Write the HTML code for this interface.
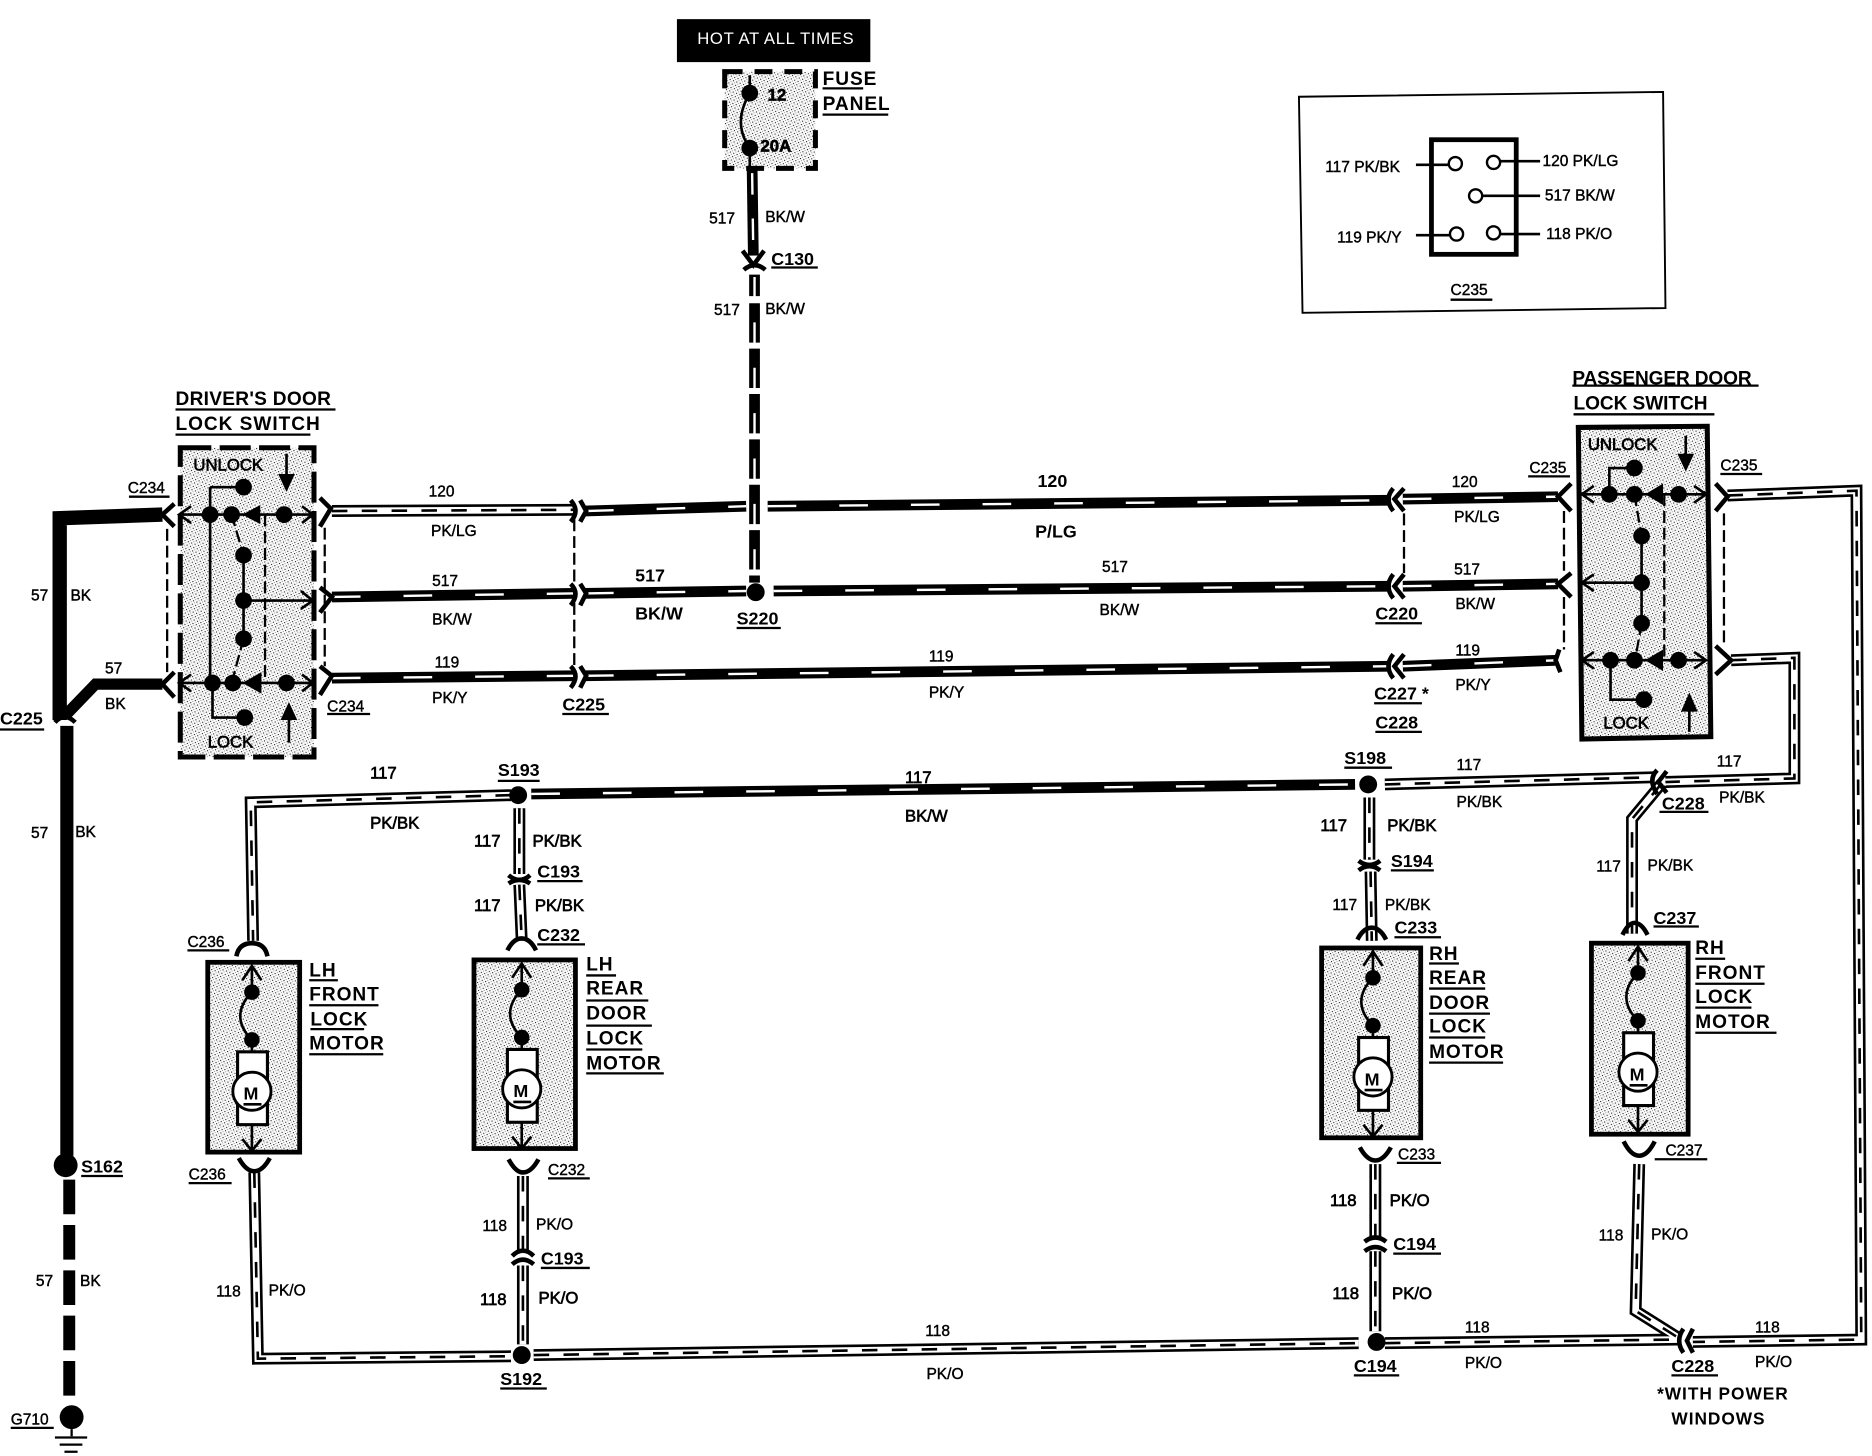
<!DOCTYPE html>
<html><head><meta charset="utf-8"><style>
html,body{margin:0;padding:0;background:#fff}
svg{display:block}
text{font-family:"Liberation Sans",sans-serif;fill:#000;stroke:#000;stroke-width:.35}
.s{font-size:13px}
.m{font-size:14px;stroke-width:.55}
.b{font-size:15px;font-weight:bold;stroke:none}
.n{font-size:16px;font-weight:bold;stroke:none;letter-spacing:.8px}
path,line,polyline{fill:none;stroke-linejoin:miter}
.w1{stroke:#000;stroke-width:10}
.w2{stroke:#fff;stroke-width:5.6}
.w3{stroke:#000;stroke-width:2.2;stroke-dasharray:13 12}
.k1{stroke:#000;stroke-width:9}
.k2{stroke:#fff;stroke-width:2;stroke-dasharray:24 36}
.c{stroke:#000;stroke-width:3.8}
.d{stroke:#000;stroke-width:1.9;stroke-dasharray:10 4}
.u{stroke:#000;stroke-width:1.9}
.l{stroke:#000;stroke-width:2.2}
.dot{fill:#000;stroke:none}
</style></head><body>
<svg xmlns="http://www.w3.org/2000/svg" width="1872" height="1456" viewBox="0 0 1568 1219.5">
<defs>
<pattern id="st" width="3" height="3" patternUnits="userSpaceOnUse" patternTransform="rotate(20)">
<rect width="3" height="3" fill="#fafafa"/><rect x="0" y="0" width=".85" height=".85" fill="#000"/><rect x="1.5" y="1.5" width=".55" height=".55" fill="#222"/>
</pattern>
<g id="motor">
<path class="l" d="M-8 15L0 3L8 15M0 3V25"/>
<circle class="dot" cx="0" cy="25" r="6.5"/>
<path class="l" d="M0 25C-13 38-13 52 0 65"/>
<circle class="dot" cx="0" cy="65" r="6.5"/>
<path class="l" d="M0 65V76"/>
<rect x="-12" y="75" width="25" height="61" fill="#fff" stroke="#000" stroke-width="2.6"/>
<circle cx="0" cy="108" r="16" fill="#fff" stroke="#000" stroke-width="2.4"/>
<path class="l" d="M-7 119H8M0 136V158M-8 148L0 158L8 148"/>
</g>
</defs>
<rect width="1568" height="1219.5" fill="#fff"/>

<!-- top -->
<rect x="567" y="16" width="162" height="36" fill="#000"/>
<text x="584" y="37" font-size="14" style="fill:#fff;stroke:none" textLength="131">HOT AT ALL TIMES</text>
<rect x="607" y="60" width="76" height="81" fill="url(#st)"/>
<rect x="607" y="60" width="76" height="81" fill="none" stroke="#000" stroke-width="4.2" stroke-dasharray="15 10"/>
<path class="l" d="M628 63V78C618 95 618 110 628 124V140"/>
<circle class="dot" cx="628" cy="78" r="7"/><circle class="dot" cx="628" cy="124" r="7"/>
<text x="643" y="84" class="m" style="font-weight:bold">12</text>
<text x="637" y="127" class="m" style="font-weight:bold">20A</text>
<text x="689" y="71" class="n">FUSE</text><text x="689" y="92" class="n">PANEL</text>

<!-- inset -->
<path d="M1088 81L1393 77L1395 258L1091 262Z" stroke="#000" stroke-width="1.6"/>
<rect x="1199" y="117" width="71" height="96" stroke="#000" stroke-width="4" fill="none"/>
<path class="l" d="M1186 138H1213M1257 135H1290M1242 164H1290M1186 197H1214M1257 196H1290"/>
<g fill="#fff" stroke="#000" stroke-width="2"><circle cx="1219" cy="137" r="5.5"/><circle cx="1251" cy="136" r="5.5"/><circle cx="1236" cy="164" r="5.5"/><circle cx="1220" cy="196" r="5.5"/><circle cx="1251" cy="195" r="5.5"/></g>
<text x="1110" y="144" class="s">117 PK/BK</text><text x="1292" y="139" class="s">120 PK/LG</text>
<text x="1294" y="168" class="s">517 BK/W</text><text x="1120" y="203" class="s">119 PK/Y</text>
<text x="1295" y="200" class="s">118 PK/O</text><text x="1215" y="247" class="s">C235</text>

<!-- switch boxes -->
<rect x="151" y="375" width="112" height="259" fill="url(#st)"/>
<rect x="151" y="375" width="112" height="259" fill="none" stroke="#000" stroke-width="4.2" stroke-dasharray="26 7"/>
<path d="M1322 358L1430 357L1433 617L1325 619Z" style="fill:url(#st)" stroke="#000" stroke-width="4.2"/>

<!-- motor boxes -->
<rect x="174" y="806" width="77" height="159" fill="url(#st)" stroke="#000" stroke-width="4"/>
<rect x="397" y="804" width="85" height="158" fill="url(#st)" stroke="#000" stroke-width="4"/>
<rect x="1107" y="794" width="83" height="159" fill="url(#st)" stroke="#000" stroke-width="4"/>
<rect x="1333" y="790" width="81" height="160" fill="url(#st)" stroke="#000" stroke-width="4"/>
<use href="#motor" x="211" y="806"/><use href="#motor" x="437" y="804"/><use href="#motor" x="1150" y="794"/><use href="#motor" x="1372" y="790"/>
<text x="204" y="921" class="b">M</text><text x="430" y="919" class="b">M</text><text x="1143" y="909" class="b">M</text><text x="1365" y="905" class="b">M</text>

<!-- hollow wires -->
<g>
<path class="w1" d="M278 428L480 427"/>
<path class="w1" d="M1447 415L1555 411L1559 1122L1418 1124"/>
<path class="w1" d="M1450 553L1503 551L1503 652L1395 655"/>
<path class="w1" d="M1160 657L1385 651"/>
<path class="w1" d="M428 666L210 672L212 788"/>
<path class="w1" d="M435 677V732M435 741L437 788"/>
<path class="w1" d="M1147 668V720M1148 730L1149 788"/>
<path class="w1" d="M1392 656L1367 686V782"/>
<path class="w1" d="M213 982L216 1138L428 1136"/>
<path class="w1" d="M438 985V1050M438 1060V1126"/>
<path class="w1" d="M447 1135L1138 1125"/>
<path class="w1" d="M1160 1125L1405 1122"/>
<path class="w1" d="M1152 975V1038M1152 1048V1115"/>
<path class="w1" d="M1373 975L1370 1098L1405 1120"/>
</g>
<g>
<path class="w2" d="M278 428L480 427"/>
<path class="w2" d="M1447 415L1555 411L1559 1122L1418 1124"/>
<path class="w2" d="M1450 553L1503 551L1503 652L1395 655"/>
<path class="w2" d="M1160 657L1385 651"/>
<path class="w2" d="M428 666L210 672L212 788"/>
<path class="w2" d="M435 677V732M435 741L437 788"/>
<path class="w2" d="M1147 668V720M1148 730L1149 788"/>
<path class="w2" d="M1392 656L1367 686V782"/>
<path class="w2" d="M213 982L216 1138L428 1136"/>
<path class="w2" d="M438 985V1050M438 1060V1126"/>
<path class="w2" d="M447 1135L1138 1125"/>
<path class="w2" d="M1160 1125L1405 1122"/>
<path class="w2" d="M1152 975V1038M1152 1048V1115"/>
<path class="w2" d="M1373 975L1370 1098L1405 1120"/>
</g>
<g>
<path class="w3" d="M278 428L480 427"/>
<path class="w3" d="M1447 415L1555 411L1559 1122L1418 1124"/>
<path class="w3" d="M1450 553L1503 551L1503 652L1395 655"/>
<path class="w3" d="M1160 657L1385 651"/>
<path class="w3" d="M428 666L210 672L212 788"/>
<path class="w3" d="M435 677V732M435 741L437 788"/>
<path class="w3" d="M1147 668V720M1148 730L1149 788"/>
<path class="w3" d="M1392 656L1367 686V782"/>
<path class="w3" d="M213 982L216 1138L428 1136"/>
<path class="w3" d="M438 985V1050M438 1060V1126"/>
<path class="w3" d="M447 1135L1138 1125"/>
<path class="w3" d="M1160 1125L1405 1122"/>
<path class="w3" d="M1152 975V1038M1152 1048V1115"/>
<path class="w3" d="M1373 975L1370 1098L1405 1120"/>
</g>

<!-- black wires -->
<path class="k1" d="M630 142L631 214M632 230V248"/>
<path class="k1" d="M632 254V488" style="stroke-dasharray:33 5"/>
<path class="k1" d="M490 428L625 424M643 424L1165 419M1175 418L1305 416"/>
<path class="k1" d="M278 500L480 497M490 497L625 495M648 495L1165 491M1175 491L1305 489"/>
<path class="k1" d="M278 568L480 566M490 566L1165 558M1175 558L1305 553"/>
<path class="k1" d="M445 665L1135 657"/>
<path class="k2" d="M490 428L625 424M643 424L1165 419M1175 418L1305 416"/>
<path class="k2" d="M278 500L480 497M490 497L625 495M648 495L1165 491M1175 491L1305 489"/>
<path class="k2" d="M278 568L480 566M490 566L1165 558M1175 558L1305 553"/>
<path class="k2" d="M445 665L1135 657"/>
<path class="k2" d="M630 145L631 214M632 232V486" style="stroke-dasharray:18 20"/>

<!-- 57 BK -->
<path d="M136 431L50 434V603" stroke="#000" stroke-width="12"/>
<path d="M136 573H80L54 600" stroke="#000" stroke-width="9.5"/>
<path d="M56 608V968" stroke="#000" stroke-width="11"/>
<path d="M58 988V1176" stroke="#000" stroke-width="10" style="stroke-dasharray:29 9"/>
<circle class="dot" cx="55" cy="976" r="10"/><circle class="dot" cx="60" cy="1187" r="10"/>
<path class="u" d="M60 1197V1203M46 1204H73M50 1210H69M54 1216H65"/>

<!-- connectors -->
<path class="c" d="M146 422L136 431L146 441M146 563L136 573L146 584M268 417L277 426L268 441M268 492L278 500L268 513M268 558L278 566L268 582"/>
<path class="c" d="M478 419Q486 428 478 437M486 419L491 428L486 437M478 489Q486 497 478 507M486 489L491 497L486 507M478 558Q486 566 478 576M486 558L491 566L486 576"/>
<path class="c" d="M1167 409Q1159 418 1167 428M1176 409L1168 418L1176 428M1167 481Q1159 491 1167 501M1176 481L1168 491L1176 501M1167 548Q1159 558 1167 568M1176 548L1168 558L1176 568"/>
<path class="c" d="M1316 405L1305 416L1316 428M1316 480L1305 489L1316 500M1306 544L1303 553L1307 563M1437 405L1447 416L1437 428M1437 541L1450 553L1437 565"/>
<path class="c" d="M622 210L631 222L640 210M623 226Q632 218 641 226M46 605Q54 596 63 605"/>
<path class="c" d="M1388 645Q1380 653 1388 665M1396 646L1389 655L1396 664M1410 1113Q1403 1123 1410 1133M1418 1113L1413 1123L1418 1133"/>
<path class="c" d="M426 733Q435 741 444 733M426 740Q435 734 444 740M429 1052Q438 1043 447 1052M429 1059Q438 1051 447 1059M1143 1040Q1152 1033 1161 1040M1143 1048Q1152 1041 1161 1048M1138 721Q1147 728 1156 721M1138 729Q1147 722 1156 729"/>
<path class="c" d="M198 801Q200 790 211 790Q222 790 224 801M425 796Q430 786 437 786Q444 786 449 796M1137 787Q1142 777 1149 777Q1156 777 1161 787M1359 783Q1364 773 1369 773Q1375 773 1380 783"/>
<path class="c" d="M200 970Q206 981 213 981Q220 981 226 970M426 971Q432 982 438 982Q445 982 451 971M1139 961Q1145 972 1152 972Q1159 972 1165 961M1360 956Q1366 968 1373 968Q1380 968 1386 956"/>

<!-- driver switch internals -->
<path class="l" d="M150 431H262M160 424L150 431L160 438M253 424L262 431L253 438M176 408V572M176 408H204"/>
<circle class="dot" cx="204" cy="408" r="7"/><circle class="dot" cx="176" cy="431" r="7"/><circle class="dot" cx="194" cy="431" r="7"/><path class="dot" d="M203 431L218 423V439Z"/><circle class="dot" cx="238" cy="431" r="7"/>
<path class="d" d="M194 431L204 465M204 535L194 572M222 431V572"/>
<circle class="dot" cx="204" cy="465" r="7"/><circle class="dot" cx="204" cy="503" r="7"/><circle class="dot" cx="204" cy="535" r="7"/>
<path class="l" d="M204 465V535M204 503H262M252 495L262 503L252 510"/>
<path class="l" d="M150 572H262M160 565L150 572L160 579M253 565L262 572L253 579M178 572V601H205"/>
<circle class="dot" cx="178" cy="572" r="7"/><circle class="dot" cx="195" cy="572" r="7"/><path class="dot" d="M203 572L219 563V581Z"/><circle class="dot" cx="240" cy="572" r="7"/><circle class="dot" cx="205" cy="601" r="7"/>
<path class="l" d="M240 380V398M242 602V622"/><path class="dot" d="M233 397H247L240 412Z M235 603H249L242 588Z"/>
<text x="162" y="394" class="m">UNLOCK</text><text x="174" y="626" class="m">LOCK</text>

<!-- passenger switch internals -->
<path class="l" d="M1325 414H1429M1335 407L1325 414L1335 421M1419 407L1429 414L1419 421M1348 414V392H1369"/>
<circle class="dot" cx="1369" cy="392" r="7"/><circle class="dot" cx="1348" cy="414" r="7"/><circle class="dot" cx="1369" cy="414" r="7"/><path class="dot" d="M1378 414L1393 405V423Z"/><circle class="dot" cx="1406" cy="414" r="7"/>
<path class="d" d="M1369 414L1375 449M1375 522L1369 556M1394 414V553"/>
<circle class="dot" cx="1375" cy="449" r="7"/><circle class="dot" cx="1375" cy="488" r="7"/><circle class="dot" cx="1375" cy="522" r="7"/>
<path class="l" d="M1375 449V522M1375 488H1325M1335 481L1325 488L1335 495"/>
<path class="l" d="M1325 553H1429M1335 546L1325 553L1335 560M1419 546L1429 553L1419 560M1349 553V586H1377"/>
<circle class="dot" cx="1349" cy="553" r="7"/><circle class="dot" cx="1369" cy="553" r="7"/><path class="dot" d="M1378 553L1393 544V562Z"/><circle class="dot" cx="1406" cy="553" r="7"/><circle class="dot" cx="1377" cy="586" r="7"/>
<path class="l" d="M1412 365V382M1415 595V613"/><path class="dot" d="M1405 380H1419L1412 395Z M1408 596H1422L1415 580Z"/>
<text x="1330" y="377" class="m">UNLOCK</text><text x="1343" y="610" class="m">LOCK</text>

<!-- dashed links -->
<path class="d" d="M140 443V563M272 442V558M481 435V558M1176 430V480M1310 428V478M1310 500V544M1444 430V540"/>

<!-- nodes -->
<circle class="dot" cx="633" cy="496" r="7.5"/><circle class="dot" cx="434" cy="666" r="7.5"/><circle class="dot" cx="1146" cy="657" r="7.5"/><circle class="dot" cx="437" cy="1135" r="7.5"/><circle class="dot" cx="1153" cy="1124" r="7.5"/>

<!-- underlines -->
<path class="u" d="M689 74H723M689 96H744M147 343H281M147 364H260M1317 323H1473M1318 347H1436M108 416H142M274 598H310M471 598H510M617 526H654M1280 399H1315M1441 397H1476M1152 522H1191M1151 589H1191M1152 613H1191M646 224H685M0 611H37M417 654H452M1126 643H1166M68 985H103M9 1196H45M1215 251H1250"/>
<path class="u" d="M450 738H488M450 791H490M1165 729H1201M1168 785H1207M1390 680H1431M1385 776H1423M157 796H192M158 991H194M459 987H494M1170 974H1207M1386 971H1430M453 1062H494M1167 1050H1207M419 1163H458M1134 1152H1172M1400 1152H1439"/>
<path class="u" d="M259 821H283M259 842H317M260 862H305M259 883H321M491 817H516M491 838H543M491 859H546M491 879H538M491 899H556M1197 807H1222M1197 828H1244M1197 849H1248M1197 869H1244M1197 890H1259M1420 803H1445M1420 824H1478M1420 844H1467M1420 865H1488"/>

<!-- node labels -->
<g class="b">
<text x="147" y="339" class="n" textLength="131">DRIVER'S DOOR</text><text x="147" y="360" class="n">LOCK SWITCH</text>
<text x="1317" y="322" class="n" textLength="151">PASSENGER DOOR</text><text x="1318" y="343" class="n" textLength="113">LOCK SWITCH</text>
<text x="259" y="818" class="n">LH</text><text x="259" y="838" class="n">FRONT</text><text x="260" y="859" class="n">LOCK</text><text x="259" y="879" class="n">MOTOR</text>
<text x="491" y="813" class="n">LH</text><text x="491" y="833" class="n">REAR</text><text x="491" y="854" class="n">DOOR</text><text x="491" y="875" class="n">LOCK</text><text x="491" y="896" class="n">MOTOR</text>
<text x="1197" y="804" class="n">RH</text><text x="1197" y="824" class="n">REAR</text><text x="1197" y="845" class="n">DOOR</text><text x="1197" y="865" class="n">LOCK</text><text x="1197" y="886" class="n">MOTOR</text>
<text x="1420" y="799" class="n">RH</text><text x="1420" y="820" class="n">FRONT</text><text x="1420" y="840" class="n">LOCK</text><text x="1420" y="861" class="n">MOTOR</text>
<text x="1388" y="1172" class="n" style="font-size:14.5px">*WITH POWER</text><text x="1400" y="1193" class="n" style="font-size:14.5px">WINDOWS</text>
</g>

<!-- connector labels -->
<text x="107" y="413" class="s">C234</text><text x="274" y="596" class="s">C234</text>
<text x="471" y="595" class="b">C225</text><text x="0" y="607" class="b">C225</text>
<text x="617" y="523" class="b">S220</text><text x="646" y="222" class="b">C130</text>
<text x="1281" y="396" class="s">C235</text><text x="1441" y="394" class="s">C235</text>
<text x="1152" y="519" class="b">C220</text><text x="1151" y="586" class="b">C227 *</text><text x="1152" y="610" class="b">C228</text>
<text x="417" y="650" class="b">S193</text><text x="1126" y="640" class="b">S198</text>
<text x="68" y="982" class="b">S162</text><text x="9" y="1193" class="s">G710</text>
<text x="450" y="735" class="b">C193</text><text x="450" y="788" class="b">C232</text>
<text x="1165" y="726" class="b">S194</text><text x="1168" y="782" class="b">C233</text>
<text x="1392" y="678" class="b">C228</text><text x="1385" y="774" class="b">C237</text>
<text x="157" y="793" class="s">C236</text><text x="158" y="988" class="s">C236</text>
<text x="459" y="984" class="s">C232</text><text x="1171" y="971" class="s">C233</text><text x="1395" y="968" class="s">C237</text>
<text x="453" y="1059" class="b">C193</text><text x="1167" y="1047" class="b">C194</text>
<text x="419" y="1160" class="b">S192</text><text x="1134" y="1149" class="b">C194</text><text x="1400" y="1149" class="b">C228</text>

<!-- wire labels -->
<g class="s">
<text x="594" y="187" class="s">517</text><text x="641" y="186" class="s">BK/W</text>
<text x="598" y="264" class="s">517</text><text x="641" y="263" class="s">BK/W</text>
<text x="359" y="416" class="s">120</text><text x="361" y="449" class="s">PK/LG</text>
<text x="362" y="491" class="s">517</text><text x="362" y="523" class="s">BK/W</text>
<text x="364" y="559" class="s">119</text><text x="362" y="589" class="s">PK/Y</text>
<text x="532" y="487" class="b">517</text><text x="532" y="519" class="b">BK/W</text>
<text x="869" y="408" class="b">120</text><text x="867" y="450" class="b">P/LG</text>
<text x="923" y="479" class="s">517</text><text x="921" y="515" class="s">BK/W</text>
<text x="778" y="554" class="s">119</text><text x="778" y="584" class="s">PK/Y</text>
<text x="1216" y="408" class="s">120</text><text x="1218" y="437" class="s">PK/LG</text>
<text x="1218" y="481" class="s">517</text><text x="1219" y="510" class="s">BK/W</text>
<text x="1219" y="549" class="s">119</text><text x="1219" y="578" class="s">PK/Y</text>
<text x="26" y="503" class="s">57</text><text x="59" y="503" class="s">BK</text>
<text x="88" y="564" class="s">57</text><text x="88" y="594" class="s">BK</text>
<text x="26" y="702" class="s">57</text><text x="63" y="701" class="s">BK</text>
<text x="30" y="1077" class="s">57</text><text x="67" y="1077" class="s">BK</text>
<text x="310" y="652" class="m">117</text><text x="310" y="694" class="m">PK/BK</text>
<text x="758" y="656" class="m">117</text><text x="758" y="688" class="m">BK/W</text>
<text x="1220" y="645" class="s">117</text><text x="1220" y="676" class="s">PK/BK</text>
<text x="1438" y="642" class="s">117</text><text x="1440" y="672" class="s">PK/BK</text>
<text x="397" y="709" class="m">117</text><text x="446" y="709" class="m">PK/BK</text>
<text x="397" y="763" class="m">117</text><text x="448" y="763" class="m">PK/BK</text>
<text x="1106" y="696" class="m">117</text><text x="1162" y="696" class="m">PK/BK</text>
<text x="1116" y="762" class="s">117</text><text x="1160" y="762" class="s">PK/BK</text>
<text x="1337" y="730" class="s">117</text><text x="1380" y="729" class="s">PK/BK</text>
<text x="181" y="1086" class="s">118</text><text x="225" y="1085" class="s">PK/O</text>
<text x="404" y="1031" class="s">118</text><text x="449" y="1030" class="s">PK/O</text>
<text x="402" y="1093" class="m">118</text><text x="451" y="1092" class="m">PK/O</text>
<text x="775" y="1119" class="s">118</text><text x="776" y="1155" class="s">PK/O</text>
<text x="1114" y="1010" class="m">118</text><text x="1164" y="1010" class="m">PK/O</text>
<text x="1116" y="1088" class="m">118</text><text x="1166" y="1088" class="m">PK/O</text>
<text x="1227" y="1116" class="s">118</text><text x="1227" y="1146" class="s">PK/O</text>
<text x="1339" y="1039" class="s">118</text><text x="1383" y="1038" class="s">PK/O</text>
<text x="1470" y="1116" class="s">118</text><text x="1470" y="1145" class="s">PK/O</text>
</g>
</svg>
</body></html>
